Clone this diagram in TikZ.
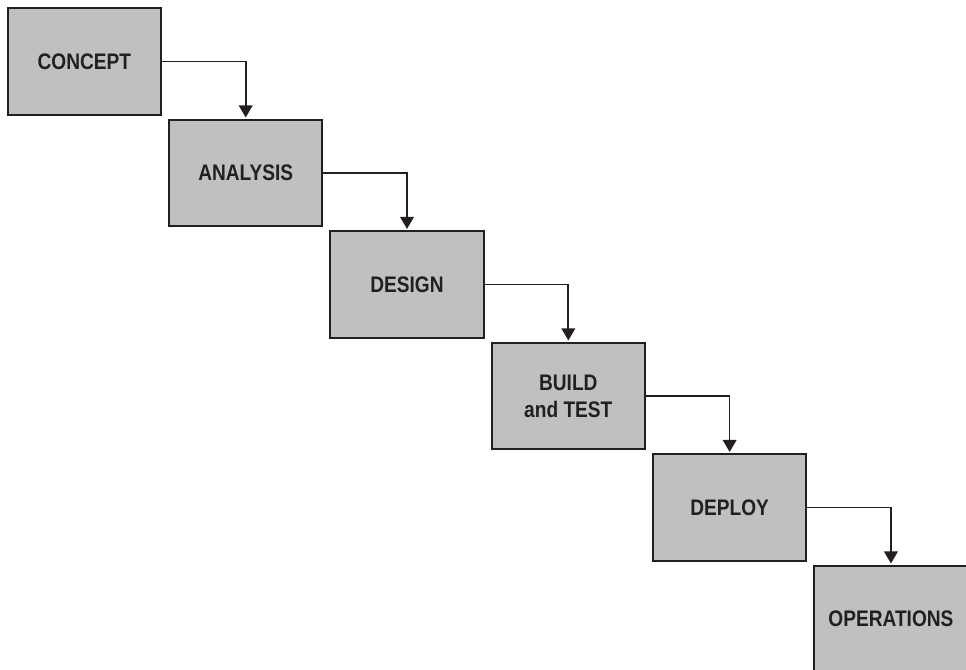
\documentclass[tikz,border=0pt]{standalone}
\usepackage{fontspec}
\newfontfamily\boxfont{Liberation Sans}[FakeStretch=0.85]
\usepackage{xcolor}
\definecolor{mygray}{RGB}{191,192,194}
\definecolor{myink}{RGB}{35,31,32}
\usepackage{tikz}
\usetikzlibrary{arrows.meta,positioning}

\begin{document}
\begin{tikzpicture}[
  node distance=0.075cm and 0.15cm,
  phase/.style={rectangle, draw=myink, fill=mygray, line width=1.5pt,
                minimum width=3.83cm, minimum height=2.66cm, align=center,
                text=myink, font=\boxfont\bfseries\fontsize{16}{19.2}\selectfont},
  arrow/.style={line width=1.2pt, -{Triangle[width=0.34cm,length=0.3cm]},
                color=myink, shorten >=1pt}
]
  \useasboundingbox (0,0) rectangle (24.15,-16.75);
  % Staircase of phases, top left to bottom right
  \node[phase] (p1) at (2.11,-1.54) {CONCEPT};
  \node[phase, below right=of p1] (p2) {ANALYSIS};
  \node[phase, below right=of p2] (p3) {DESIGN};
  \node[phase, below right=of p3] (p4) {BUILD\\and TEST};
  \node[phase, below right=of p4] (p5) {DEPLOY};
  \node[phase, below right=of p5] (p6) {OPERATIONS};
  % Each phase feeds the next: out of the right side, down onto the top
  \foreach \a/\b in {p1/p2,p2/p3,p3/p4,p4/p5,p5/p6}
    \draw[arrow] (\a.east) -| (\b.north);
\end{tikzpicture}
\end{document}
